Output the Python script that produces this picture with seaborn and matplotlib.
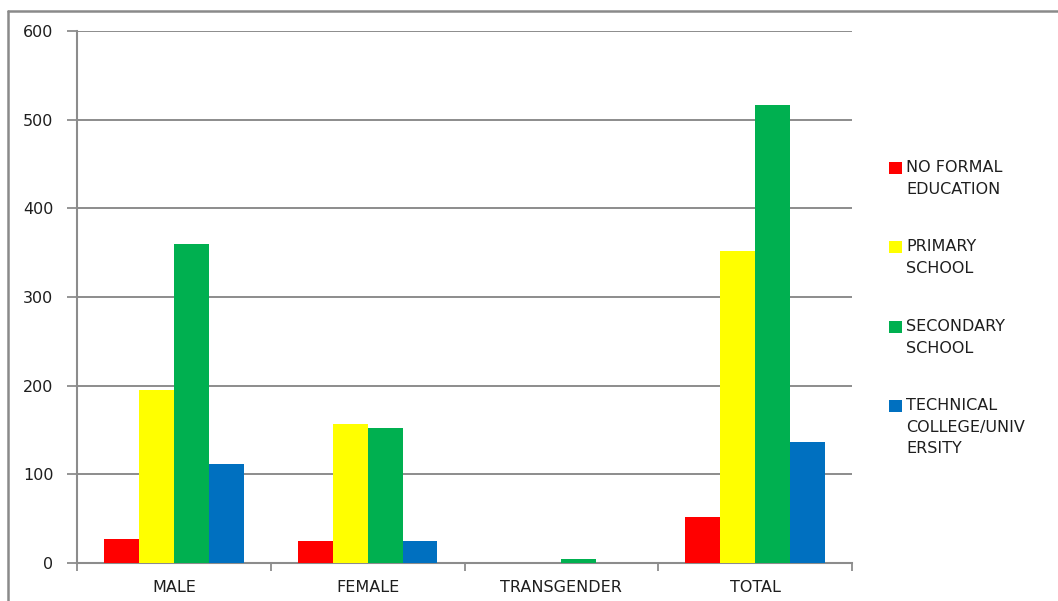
import matplotlib
matplotlib.use("Agg")
import matplotlib.pyplot as plt
from matplotlib.patches import Rectangle
from matplotlib.lines import Line2D
import seaborn as sns
import pandas as pd

categories = ["MALE", "FEMALE", "TRANSGENDER", "TOTAL"]
no_formal = [27, 25, 0, 52]
primary = [195, 157, 0, 352]
secondary = [360, 152, 5, 517]
technical = [112, 25, 0, 137]
series_names = ["NO FORMAL\nEDUCATION", "PRIMARY\nSCHOOL", "SECONDARY\nSCHOOL",
                "TECHNICAL\nCOLLEGE/UNIV\nERSITY"]
colors = ["#FF0000", "#FFFF00", "#00B050", "#0070C0"]
y_ticks = [0, 100, 200, 300, 400, 500, 600]

rows = []
for name, vals in zip(series_names, [no_formal, primary, secondary, technical]):
    for cat, v in zip(categories, vals):
        rows.append({"category": cat, "level": name, "count": v})
df = pd.DataFrame(rows)

sns.set_theme(style="white")
plt.rcParams["font.family"] = ["DejaVu Sans"]

FS = 11.5
TXT = "#1e1e1e"
W, H = 1058, 601
fig = plt.figure(figsize=(W / 100, H / 100), dpi=100)
ax = fig.add_axes([77 / W, 1 - 563 / H, (852 - 77) / W, (563 - 31) / H])

sns.barplot(data=df, x="category", y="count", hue="level", order=categories,
            hue_order=series_names, palette=colors, width=0.72, saturation=1,
            edgecolor="none", linewidth=0, ax=ax, legend=False, zorder=3)

grid_c = "#8c8c8c"
ax.set_ylim(0, 600)
ax.set_xlim(-0.5, len(categories) - 0.5)
ax.set_yticks(y_ticks)
ax.set_yticklabels([str(t) for t in y_ticks], fontsize=FS, color=TXT)
for t in y_ticks[1:]:
    ax.axhline(t, color=grid_c, lw=1.4, zorder=1)

ax.set_xticks(range(len(categories)))
ax.set_xticklabels(categories, fontsize=FS, color=TXT)
ax.set_xticks([i - 0.5 for i in range(len(categories) + 1)], minor=True)
ax.tick_params(axis="x", which="major", length=0, pad=12)
ax.tick_params(axis="x", which="minor", length=6, width=1.3, color=grid_c,
               direction="out", bottom=True)
ax.tick_params(axis="y", length=7, width=1.3, color=grid_c, direction="out",
               left=True, pad=10)
ax.set_xlabel("")
ax.set_ylabel("")

for side in ["top", "right"]:
    ax.spines[side].set_visible(False)
for side in ["left", "bottom"]:
    ax.spines[side].set_color(grid_c)
    ax.spines[side].set_linewidth(1.5)

# legend to the right of the plot, marker aligned with the first text line
leg_y = [168, 247, 327, 406]
for name, col, yy in zip(series_names, colors, leg_y):
    fig.patches.append(Rectangle((889 / W, 1 - (yy + 6) / H), 13 / W, 12 / H,
                                 transform=fig.transFigure, facecolor=col,
                                 edgecolor="none"))
    fig.text(906 / W, 1 - (yy - 8) / H, name, fontsize=FS, color=TXT,
             va="top", ha="left", linespacing=1.55)

# outer chart frame
fig.add_artist(Line2D([8 / W, 8 / W], [0, 1 - 11 / H], transform=fig.transFigure,
                      color="#8a8a8a", lw=1.8))
fig.add_artist(Line2D([8 / W, 1], [1 - 11 / H, 1 - 11 / H], transform=fig.transFigure,
                      color="#8a8a8a", lw=1.8))

fig.savefig("out.png", dpi=100, facecolor="white")
